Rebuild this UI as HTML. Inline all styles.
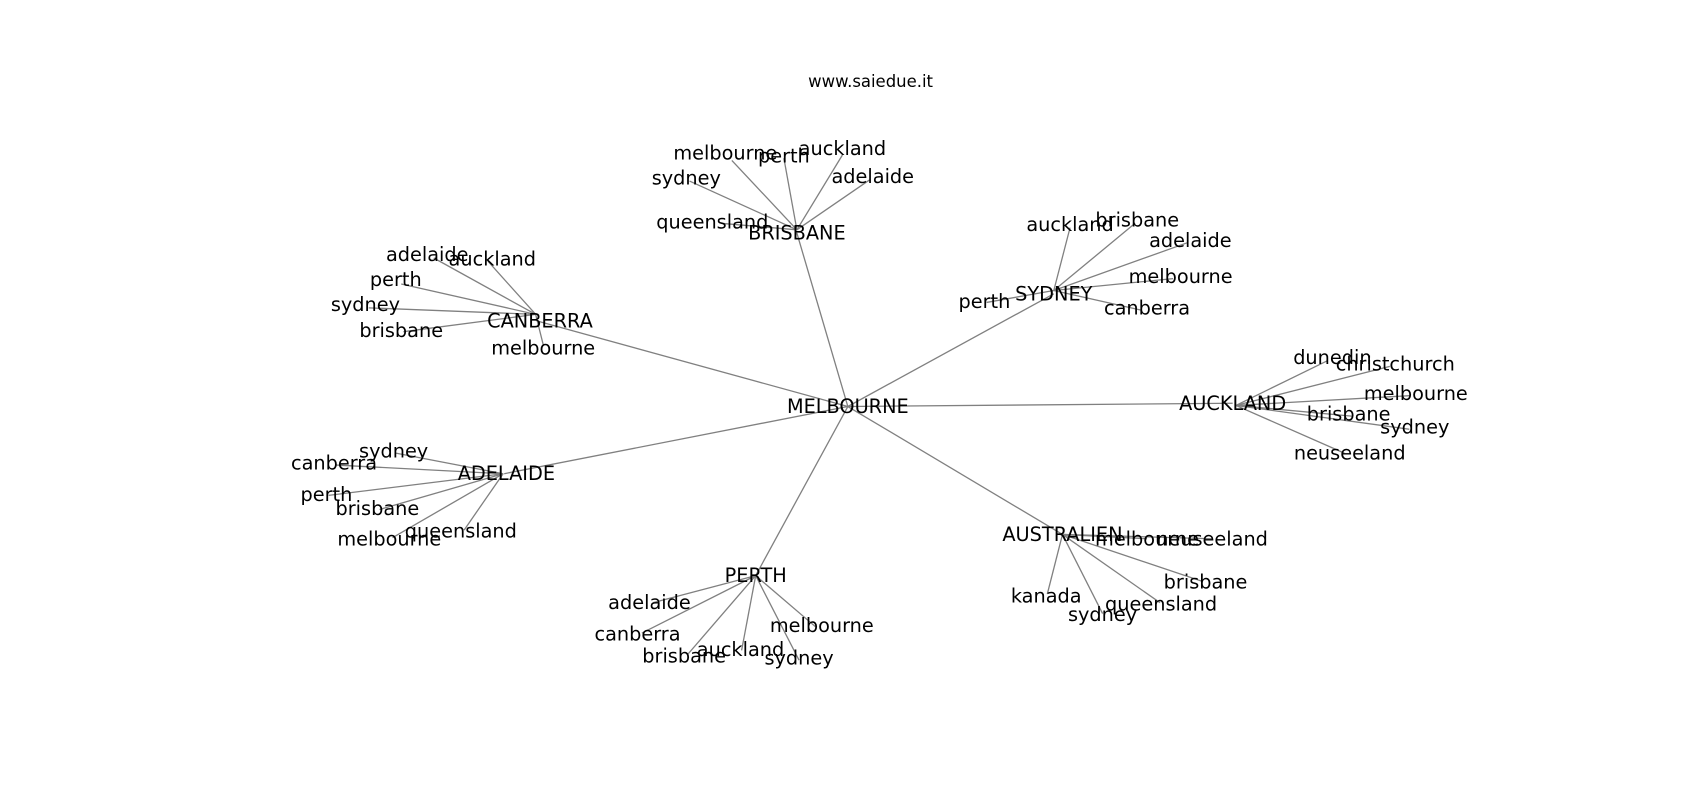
<!DOCTYPE html>
<html><head><meta charset="utf-8"><style>
html,body{margin:0;padding:0;background:#fff;width:1700px;height:800px;overflow:hidden}
svg{display:block}
text{font-family:"DejaVu Sans","Liberation Sans",sans-serif;font-size:17.8px;fill:#000;text-anchor:middle;dominant-baseline:central}
line{stroke:#808080;stroke-width:1.2}
</style></head><body>
<svg width="1700" height="800" viewBox="0 0 1568 738" xmlns="http://www.w3.org/2000/svg">
<text x="803" y="75" style="font-size:15.2px">www.saiedue.it</text>
<g>
<line x1="782" y1="375" x2="735" y2="215"/>
<line x1="782" y1="375" x2="495" y2="296"/>
<line x1="782" y1="375" x2="465" y2="437"/>
<line x1="782" y1="375" x2="697" y2="531"/>
<line x1="782" y1="375" x2="980" y2="493"/>
<line x1="782" y1="375" x2="1137" y2="372"/>
<line x1="782" y1="375" x2="972" y2="271"/>
<line x1="735" y1="212" x2="675" y2="148"/>
<line x1="735" y1="212" x2="723" y2="146"/>
<line x1="735" y1="212" x2="777" y2="143"/>
<line x1="735" y1="212" x2="802" y2="166"/>
<line x1="735" y1="212" x2="636" y2="167"/>
<line x1="735" y1="212" x2="665" y2="206"/>
<line x1="494" y1="290" x2="400" y2="238"/>
<line x1="494" y1="290" x2="450" y2="241"/>
<line x1="494" y1="290" x2="370" y2="262"/>
<line x1="494" y1="290" x2="340" y2="284"/>
<line x1="494" y1="290" x2="372" y2="306"/>
<line x1="494" y1="290" x2="501" y2="318"/>
<line x1="972" y1="268" x2="987" y2="210"/>
<line x1="972" y1="268" x2="1047" y2="206"/>
<line x1="972" y1="268" x2="1095" y2="224"/>
<line x1="972" y1="268" x2="1082" y2="257"/>
<line x1="972" y1="268" x2="1052" y2="286"/>
<line x1="972" y1="268" x2="910" y2="279"/>
<line x1="1140" y1="374" x2="1224" y2="333"/>
<line x1="1140" y1="374" x2="1282" y2="338"/>
<line x1="1140" y1="374" x2="1300" y2="365"/>
<line x1="1140" y1="374" x2="1248" y2="384"/>
<line x1="1140" y1="374" x2="1300" y2="396"/>
<line x1="1140" y1="374" x2="1240" y2="418"/>
<line x1="464" y1="437" x2="365" y2="418"/>
<line x1="464" y1="437" x2="310" y2="429"/>
<line x1="464" y1="437" x2="303" y2="457"/>
<line x1="464" y1="437" x2="350" y2="470"/>
<line x1="464" y1="437" x2="362" y2="496"/>
<line x1="464" y1="437" x2="428" y2="489"/>
<line x1="697" y1="531" x2="602" y2="556"/>
<line x1="697" y1="531" x2="592" y2="584"/>
<line x1="697" y1="531" x2="634" y2="604"/>
<line x1="697" y1="531" x2="684" y2="600"/>
<line x1="697" y1="531" x2="737" y2="609"/>
<line x1="697" y1="531" x2="752" y2="578"/>
<line x1="980" y1="493" x2="1058" y2="497"/>
<line x1="980" y1="493" x2="1118" y2="497"/>
<line x1="980" y1="493" x2="966" y2="548"/>
<line x1="980" y1="493" x2="1017" y2="566"/>
<line x1="980" y1="493" x2="1070" y2="556"/>
<line x1="980" y1="493" x2="1108" y2="536"/>
</g>
<g>
<text x="782" y="375">MELBOURNE</text>
<text x="735" y="215">BRISBANE</text>
<text x="498" y="296">CANBERRA</text>
<text x="467" y="437">ADELAIDE</text>
<text x="697" y="531">PERTH</text>
<text x="980" y="493">AUSTRALIEN</text>
<text x="1137" y="372">AUCKLAND</text>
<text x="972" y="271">SYDNEY</text>
<text x="669" y="141">melbourne</text>
<text x="723" y="144">perth</text>
<text x="777" y="137">auckland</text>
<text x="805" y="163">adelaide</text>
<text x="633" y="164">sydney</text>
<text x="657" y="205">queensland</text>
<text x="394" y="235">adelaide</text>
<text x="454" y="239">auckland</text>
<text x="365" y="258">perth</text>
<text x="337" y="281">sydney</text>
<text x="370" y="305">brisbane</text>
<text x="501" y="321">melbourne</text>
<text x="987" y="207">auckland</text>
<text x="1049" y="203">brisbane</text>
<text x="1098" y="222">adelaide</text>
<text x="1089" y="255">melbourne</text>
<text x="1058" y="284">canberra</text>
<text x="908" y="278">perth</text>
<text x="1229" y="330">dunedin</text>
<text x="1287" y="336">christchurch</text>
<text x="1306" y="363">melbourne</text>
<text x="1244" y="382">brisbane</text>
<text x="1305" y="394">sydney</text>
<text x="1245" y="418">neuseeland</text>
<text x="363" y="416">sydney</text>
<text x="308" y="427">canberra</text>
<text x="301" y="456">perth</text>
<text x="348" y="469">brisbane</text>
<text x="359" y="497">melbourne</text>
<text x="425" y="490">queensland</text>
<text x="599" y="556">adelaide</text>
<text x="588" y="585">canberra</text>
<text x="631" y="605">brisbane</text>
<text x="683" y="599">auckland</text>
<text x="737" y="607">sydney</text>
<text x="758" y="577">melbourne</text>
<text x="1058" y="497">melbourne</text>
<text x="1118" y="497">neuseeland</text>
<text x="965" y="550">kanada</text>
<text x="1017" y="567">sydney</text>
<text x="1071" y="557">queensland</text>
<text x="1112" y="537">brisbane</text>
</g>
</svg>
</body></html>
